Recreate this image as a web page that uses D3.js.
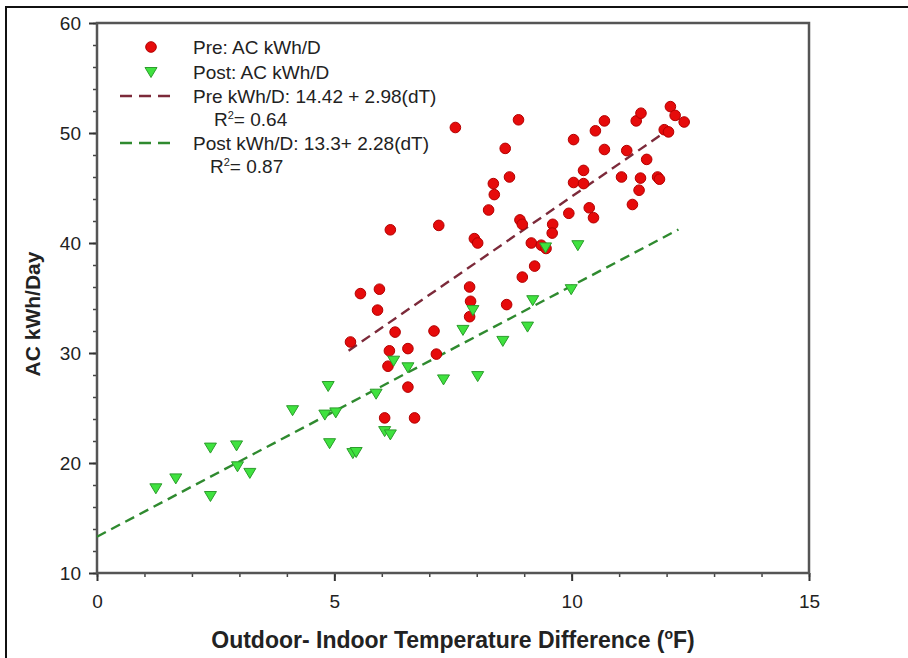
<!DOCTYPE html>
<html>
<head>
<meta charset="utf-8">
<script src="https://cdn.jsdelivr.net/npm/d3@7"></script>
<style>
  body { margin: 0; background: #fff; }
  svg { display: block; font-family: "Liberation Sans", Arial, sans-serif; }
</style>
</head>
<body>
<div id="canvas"></div>
<script>
// pre retrofit points (temperature difference, kWh per day)
var preX = [5.34, 5.55, 5.95, 5.91, 6.18, 6.06, 6.16, 6.13, 6.28, 6.55, 6.55, 6.69, 7.10, 7.15, 7.20, 7.55,
	7.85, 7.87, 7.85, 8.63, 7.95, 8.02, 8.25, 8.35, 8.37, 8.60, 8.69, 8.88, 8.91, 8.96, 8.96, 9.15, 9.22,
	9.36, 9.46, 9.60, 9.59, 9.94, 10.37, 10.46, 10.04, 10.25, 10.25, 10.04, 10.50, 10.69, 10.69, 11.16,
	11.05, 11.58, 11.45, 11.42, 11.28, 11.81, 11.85, 11.36, 11.46, 12.08, 12.18, 12.37, 11.95, 12.04];
var preY = [31.0, 35.4, 35.8, 33.9, 41.2, 24.1, 30.2, 28.8, 31.9, 30.4, 26.9, 24.1, 32.0, 29.9, 41.6, 50.5,
	36.0, 34.7, 33.3, 34.4, 40.4, 40.0, 43.0, 45.4, 44.4, 48.6, 46.0, 51.2, 42.1, 41.7, 36.9, 40.0, 37.9,
	39.8, 39.5, 41.7, 40.9, 42.7, 43.2, 42.3, 45.5, 46.6, 45.4, 49.4, 50.2, 51.1, 48.5, 48.4,
	46.0, 47.6, 45.9, 44.8, 43.5, 46.0, 45.8, 51.1, 51.8, 52.4, 51.6, 51.0, 50.3, 50.1];

// post retrofit points
var postX = [7.92, 7.71, 8.55, 9.07, 9.18, 6.25, 6.55, 5.88, 4.87, 7.30, 8.02, 4.80, 5.03, 6.06, 6.18,
	4.90, 5.39, 5.46, 1.24, 1.66, 2.39, 2.39, 2.94, 2.96, 3.22, 4.12, 9.45, 10.13, 9.99];
var postY = [33.9, 32.1, 31.1, 32.4, 34.8, 29.3, 28.7, 26.3, 27.0, 27.6, 27.9, 24.4, 24.6, 22.9, 22.6,
	21.8, 20.9, 21.0, 17.7, 18.6, 21.4, 17.0, 21.6, 19.7, 19.1, 24.8, 39.6, 39.8, 35.8];

// regression lines: [intercept, slope, x start, x end]
var preFit = [14.42, 2.98, 5.3, 12.0];
var postFit = [13.3, 2.28, 0, 12.25];

// axis ticks
var xTicks = [0, 5, 10, 15];
var xMinorTicks = d3.range(0, 16, 1);
var yTicks = [10, 20, 30, 40, 50, 60];
var yMinorTicks = d3.range(10, 61, 2);

var legendLabels = ["Pre: AC kWh/D", "Post: AC kWh/D", "Pre kWh/D: 14.42 + 2.98(dT)", "Post kWh/D: 13.3+ 2.28(dT)"];
var legendR2 = ["0.64", "0.87"];

var W = 908, H = 658;
var plot = { left: 97, right: 809, top: 23, bottom: 573 };

var redFill = "#e60b0b", redStroke = "#b30000";
var greenFill = "#3fe23f", greenStroke = "#2c9c2c";
var preLine = "#7c2a3a", postLine = "#2f8a2f";

var svg = d3.select("#canvas")
	.append("svg")
	.attr("width", W)
	.attr("height", H);

// image border (top and left edges)
svg.append("line").attr("x1", 5).attr("x2", W).attr("y1", 7).attr("y2", 7)
	.attr("stroke", "#111").attr("stroke-width", 2);
svg.append("line").attr("x1", 6).attr("x2", 6).attr("y1", 7).attr("y2", H)
	.attr("stroke", "#111").attr("stroke-width", 2);

// scales
var x = d3.scaleLinear().domain([0, 15]).range([plot.left, plot.right]);
var y = d3.scaleLinear().domain([10, 60]).range([plot.bottom, plot.top]);

// minor ticks
svg.append("g")
	.attr("transform", "translate(0," + plot.bottom + ")")
	.call(d3.axisBottom(x).tickValues(xMinorTicks).tickSize(4).tickFormat(""))
	.call(g => g.select(".domain").remove())
	.call(g => g.selectAll("line").attr("stroke", "#444").attr("stroke-width", 1.5));
svg.append("g")
	.attr("transform", "translate(" + plot.left + ",0)")
	.call(d3.axisLeft(y).tickValues(yMinorTicks).tickSize(4).tickFormat(""))
	.call(g => g.select(".domain").remove())
	.call(g => g.selectAll("line").attr("stroke", "#444").attr("stroke-width", 1.5));

// major ticks and labels
svg.append("g")
	.attr("transform", "translate(0," + plot.bottom + ")")
	.call(d3.axisBottom(x).tickValues(xTicks).tickSize(8).tickPadding(14))
	.call(g => g.select(".domain").remove())
	.call(g => g.selectAll("line").attr("stroke", "#333").attr("stroke-width", 2))
	.call(g => g.selectAll("text").attr("fill", "#222").style("font-size", "19px")
		.style("font-family", "'Liberation Sans', Arial, sans-serif"));
svg.append("g")
	.attr("transform", "translate(" + plot.left + ",0)")
	.call(d3.axisLeft(y).tickValues(yTicks).tickSize(8).tickPadding(8))
	.call(g => g.select(".domain").remove())
	.call(g => g.selectAll("line").attr("stroke", "#333").attr("stroke-width", 2))
	.call(g => g.selectAll("text").attr("fill", "#222").style("font-size", "19px")
		.style("font-family", "'Liberation Sans', Arial, sans-serif"));

// plot frame
svg.append("rect")
	.attr("x", plot.left).attr("y", plot.top)
	.attr("width", plot.right - plot.left).attr("height", plot.bottom - plot.top)
	.attr("fill", "none").attr("stroke", "#555").attr("stroke-width", 2.5);

// axis titles
svg.append("text")
	.attr("x", (plot.left + plot.right) / 2)
	.attr("y", 648)
	.attr("text-anchor", "middle")
	.attr("fill", "#222")
	.style("font-size", "23px").style("font-weight", "bold")
	.call(t => {
		t.append("tspan").text("Outdoor- Indoor Temperature Difference (");
		t.append("tspan").attr("dy", -9).style("font-size", "14px").text("o");
		t.append("tspan").attr("dy", 9).text("F)");
	});
svg.append("text")
	.attr("transform", "translate(40," + 314 + ") rotate(-90)")
	.attr("text-anchor", "middle")
	.attr("fill", "#222")
	.style("font-size", "21px").style("font-weight", "bold")
	.text("AC kWh/Day");

// regression lines
function fitLine(fit, color) {
	var pts = [fit[2], fit[3]].map(function(v) { return [v, fit[0] + fit[1] * v]; });
	svg.append("path")
		.datum(pts)
		.attr("fill", "none")
		.attr("stroke", color)
		.attr("stroke-width", 2.4)
		.attr("stroke-dasharray", "10,6")
		.attr("d", d3.line().x(d => x(d[0])).y(d => y(d[1])));
}
fitLine(preFit, preLine);
fitLine(postFit, postLine);

// triangle pointing down
var tri = "M-6,-4.5L6,-4.5L0,5.5Z";

// pre points
svg.append("g").selectAll("circle")
	.data(d3.zip(preX, preY))
	.join("circle")
	.attr("cx", d => x(d[0]))
	.attr("cy", d => y(d[1]))
	.attr("r", 5.3)
	.attr("fill", redFill)
	.attr("stroke", redStroke)
	.attr("stroke-width", 1);

// post points
svg.append("g").selectAll("path")
	.data(d3.zip(postX, postY))
	.join("path")
	.attr("transform", d => "translate(" + x(d[0]) + "," + y(d[1]) + ")")
	.attr("d", tri)
	.attr("fill", greenFill)
	.attr("stroke", greenStroke)
	.attr("stroke-width", 1);

// legend
var legendFont = "19px";
var rows = [47, 72, 96, 143];
svg.append("circle").attr("cx", 151).attr("cy", rows[0]).attr("r", 5.3)
	.attr("fill", redFill).attr("stroke", redStroke);
svg.append("path").attr("transform", "translate(151," + rows[1] + ")").attr("d", tri)
	.attr("fill", greenFill).attr("stroke", greenStroke);
svg.append("line").attr("x1", 120).attr("x2", 175).attr("y1", rows[2]).attr("y2", rows[2])
	.attr("stroke", preLine).attr("stroke-width", 2.4).attr("stroke-dasharray", "12,7");
svg.append("line").attr("x1", 120).attr("x2", 177).attr("y1", rows[3]).attr("y2", rows[3])
	.attr("stroke", postLine).attr("stroke-width", 2.4).attr("stroke-dasharray", "12,7");

legendLabels.forEach(function(label, i) {
	svg.append("text")
		.attr("x", 193).attr("y", rows[i] + 7)
		.attr("fill", "#222")
		.style("font-size", legendFont)
		.text(label);
});

// R squared labels under each fit
[[214, 126], [210, 173]].forEach(function(p, i) {
	svg.append("text")
		.attr("x", p[0]).attr("y", p[1])
		.attr("fill", "#222")
		.style("font-size", legendFont)
		.call(t => {
			t.append("tspan").text("R");
			t.append("tspan").attr("dy", -7).style("font-size", "11px").text("2");
			t.append("tspan").attr("dy", 7).text("= " + legendR2[i]);
		});
});
</script>
</body>
</html>
